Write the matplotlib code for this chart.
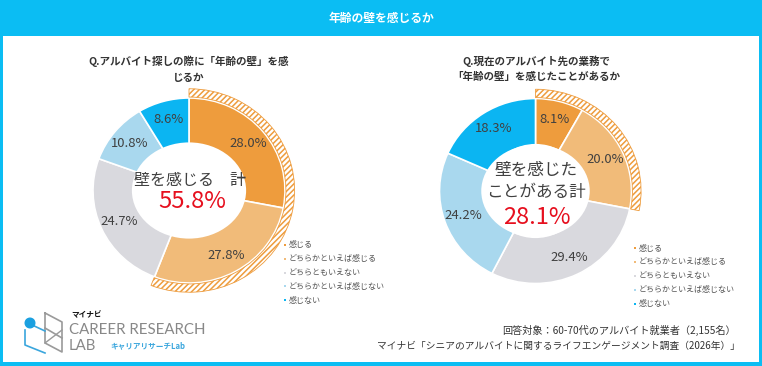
import matplotlib
matplotlib.use("Agg")
import matplotlib.pyplot as plt
from matplotlib.patches import Rectangle, Ellipse, Circle

plt.rcParams['font.family'] = ['Noto Sans CJK JP', 'DejaVu Sans']
plt.rcParams['hatch.linewidth'] = 1.1

# ---------------- data ----------------
categories = ["感じる", "どちらかといえば感じる", "どちらともいえない",
              "どちらかといえば感じない", "感じない"]
left_values = [28.0, 27.8, 24.7, 10.8, 8.6]
right_values = [8.1, 20.0, 29.4, 24.2, 18.3]
left_total_label = "55.8%"
right_total_label = "28.1%"

main_title = "年齢の壁を感じるか"
left_title = ["Q.アルバイト探しの際に「年齢の壁」を感", "じるか"]
right_title = ["Q.現在のアルバイト先の業務で", "「年齢の壁」を感じたことがあるか"]
left_center = ["壁を感じる　計"]
right_center = ["壁を感じた", "ことがある計"]
note1 = "回答対象：60-70代のアルバイト就業者（2,155名）"
note2 = "マイナビ「シニアのアルバイトに関するライフエンゲージメント調査（2026年）」"

colors = ["#EE9C3D", "#F1BB79", "#D9D9DE", "#A9D8EE", "#0BB5F2"]
hatch_color = "#EE9C3D"
cyan = "#0BBDF3"

W, H = 762, 366
fig = plt.figure(figsize=(W / 100, H / 100), dpi=100)
fig.patch.set_facecolor("white")


def pixel_axes():
    a = fig.add_axes([0, 0, 1, 1])
    a.set_xlim(0, W)
    a.set_ylim(H, 0)
    a.axis("off")
    a.patch.set_alpha(0)
    return a


# background axes in pixel coordinates
bg = pixel_axes()

bg.add_patch(Rectangle((0, 0), W, 36, color=cyan, lw=0))
bg.add_patch(Rectangle((0, 0), 3, H, color=cyan, lw=0))
bg.add_patch(Rectangle((W - 3, 0), 3, H, color=cyan, lw=0))
bg.add_patch(Rectangle((0, H - 4), W, 4, color=cyan, lw=0))
bg.text(W / 2, 18, main_title, color="white", fontsize=8.5, fontweight="bold",
        ha="center", va="center")

RX, RY = 96.0, 92.5
PAD = 1.15


def donut(cx, cy, values, hole_w, hole_h):
    left = (cx - PAD * RX) / W
    bottom = (H - (cy + PAD * RY)) / H
    ax = fig.add_axes([left, bottom, 2 * PAD * RX / W, 2 * PAD * RY / H])
    total = sum(values)
    ax.pie(values, radius=1.0, startangle=90, counterclock=False, colors=colors,
           wedgeprops=dict(width=0.5, edgecolor="white", linewidth=1.2),
           autopct=lambda p: f"{p * total / 100:.1f}%", pctdistance=0.8,
           textprops=dict(color="#404040", fontsize=9.4))
    s = values[0] + values[1]
    hw, _ = ax.pie([s, total - s], radius=1.10, startangle=90, counterclock=False,
                   colors=["white", "white"],
                   wedgeprops=dict(width=0.09, edgecolor=hatch_color, linewidth=0.6))
    hw[0].set_hatch("//////")
    hw[1].set_visible(False)
    ax.add_patch(Ellipse((0, 0), hole_w, hole_h, facecolor="white", edgecolor="none", zorder=3))
    ax.set_aspect("auto")
    ax.set_xlim(-PAD, PAD)
    ax.set_ylim(-PAD, PAD)
    ax.axis("off")
    return ax


donut(189, 190.5, left_values, 1.19, 1.04)
donut(535.5, 191, right_values, 1.13, 1.0)

fg = pixel_axes()

# center texts
fg.text(190, 180, left_center[0], fontsize=11.5, color="#404040", ha="center", va="center")
fg.text(192, 202, left_total_label, fontsize=17, color="#E60F1E", ha="center", va="center")
fg.text(536, 170, right_center[0], fontsize=12, color="#404040", ha="center", va="center")
fg.text(536, 193, right_center[1], fontsize=12, color="#404040", ha="center", va="center")
fg.text(537, 217, right_total_label, fontsize=17, color="#E60F1E", ha="center", va="center")

# chart titles
for x, lines, ys in [(189, left_title, (61, 78)), (536, right_title, (61, 77))]:
    for line, y in zip(lines, ys):
        fg.text(x, y, line, fontsize=7.6, fontweight="bold", color="#333333",
                ha="center", va="center")


def legend(x, y0, dy):
    for i, (lab, col) in enumerate(zip(categories, colors)):
        y = y0 + i * dy
        fg.scatter([x], [y], marker="s", s=3, color=col, linewidths=0)
        fg.text(x + 4, y, lab, fontsize=5.8, color="#555555", ha="left", va="center")


legend(285, 245, 13.75)
legend(635, 248, 13.9)

# notes
fg.text(736, 330, note1, fontsize=7.3, color="#333333", ha="right", va="center")
fg.text(740, 346, note2, fontsize=7, color="#333333", ha="right", va="center")

# logo
gray = "#9a9a9a"
lblue = "#3aa6dd"
fg.plot([45, 45, 62, 62, 45], [313, 343, 352, 322, 313], color=gray, lw=1.2)
fg.plot([45, 62], [328, 338], color=gray, lw=1.2)
fg.plot([45, 62], [343, 330], color=gray, lw=1.0)
fg.plot([30, 45], [324, 331], color=lblue, lw=1.2)
fg.plot([25, 25, 45], [330, 345, 353], color=lblue, lw=1.2)
fg.add_patch(Circle((30, 323), 4.8, color="#1aa0e0", zorder=5))
fg.text(71, 315, "マイナビ", fontsize=5.5, fontweight="bold", color="#111111", ha="left", va="center")
fg.text(69, 330, "CAREER RESEARCH", fontsize=10.8, color="#888888", ha="left", va="center",
        family=["Lato", "DejaVu Sans"])
fg.text(69, 346, "LAB", fontsize=10.8, color="#888888", ha="left", va="center",
        family=["Lato", "DejaVu Sans"])
fg.text(110, 346, "キャリアリサーチLab", fontsize=5.5, fontweight="bold", color=lblue, ha="left", va="center")

fig.savefig("out.png", dpi=100)
